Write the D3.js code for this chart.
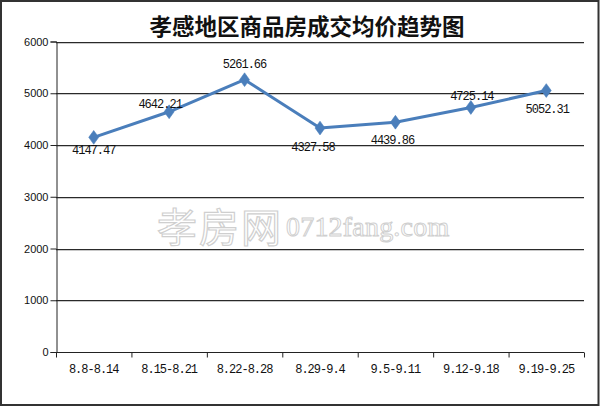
<!DOCTYPE html>
<html><head><meta charset="utf-8">
<script src="https://cdn.jsdelivr.net/npm/d3@7"></script>
<style>
html,body{margin:0;padding:0;background:#fff;}
svg{display:block;}
</style></head>
<body>
<svg id="c" width="600" height="406"></svg>
<script>
// ---- data ----
const title = "孝感地区商品房成交均价趋势图";
const categories = ["8.8-8.14","8.15-8.21","8.22-8.28","8.29-9.4","9.5-9.11","9.12-9.18","9.19-9.25"];
const prices = [4147.47, 4642.21, 5261.66, 4327.58, 4439.86, 4725.14, 5052.31];
const yTicks = [0, 1000, 2000, 3000, 4000, 5000, 6000];
const watermarkCN = "孝房网";
const watermarkEN = "0712fang.com";
// label placement (style)
const labelDx = [0, -9, 0, -7, -3, 1, 1];
const labelDy = [12, -8, -16, 18, 17, -12, 18];

const svg = d3.select("#c");
const W = 600, H = 406;
const m = {left:56, right:584, top:41.5, bottom:352};

// outer border
svg.append("rect").attr("x",1).attr("y",1).attr("width",W-2.5).attr("height",H-2)
  .attr("fill","#fff").attr("stroke","#333").attr("stroke-width",2);

// title
svg.append("text").attr("x",307).attr("y",34.5).attr("text-anchor","middle")
  .attr("font-family","'Noto Sans CJK SC', sans-serif").attr("font-weight","bold")
  .attr("font-size",22.5).attr("fill","#111").text(title);

const x = d3.scaleBand().domain(categories).range([m.left, m.right]);
const y = d3.scaleLinear().domain([0, 6000]).range([m.bottom, m.top]);

// watermark
svg.append("text").attr("x",157).attr("y",242)
  .attr("font-family","'Noto Sans CJK SC', sans-serif").attr("font-size",40)
  .attr("fill","#fff").attr("stroke","#cfcfcf").attr("stroke-width",1.2)
  .attr("letter-spacing",2).text(watermarkCN);
svg.append("text").attr("x",286).attr("y",236)
  .attr("font-family","'Liberation Serif', serif").attr("font-size",28)
  .attr("fill","#fff").attr("stroke","#cfcfcf").attr("stroke-width",1)
  .attr("letter-spacing",0.2).text(watermarkEN);

// gridlines (with soft shadow)
const grid = svg.append("g");
yTicks.filter(t => t > 0).forEach(t => {
  const yy = Math.round(y(t));
  grid.append("line").attr("x1",m.left).attr("x2",m.right).attr("y1",yy+1.5).attr("y2",yy+1.5)
    .attr("stroke","#c8c8c8").attr("stroke-width",1);
  grid.append("line").attr("x1",m.left).attr("x2",m.right).attr("y1",yy+0.5).attr("y2",yy+0.5)
    .attr("stroke","#2a2a2a").attr("stroke-width",1.2);
});

// y axis
const yAxis = d3.axisLeft(y).tickValues(yTicks).tickSize(6).tickPadding(2).tickFormat(d3.format("d"));
const gy = svg.append("g").attr("transform",`translate(${m.left+0.5},0)`).call(yAxis);
gy.select(".domain").attr("stroke","#222");
gy.selectAll(".tick line").attr("stroke","#222");
gy.selectAll("text").attr("font-family","'Liberation Sans', Arial, sans-serif").attr("font-size",11).attr("fill","#111");

// x axis
const gx = svg.append("g").attr("transform",`translate(0,${m.bottom+0.5})`);
gx.append("line").attr("x1",m.left).attr("x2",m.right).attr("stroke","#222").attr("stroke-width",1.2);
const edges = categories.map(c => x(c)).concat([m.right]);
gx.selectAll("line.tk").data(edges).join("line").attr("class","tk")
  .attr("x1",d=>d+0.5).attr("x2",d=>d+0.5).attr("y1",0).attr("y2",5).attr("stroke","#222");
gx.selectAll("text").data(categories).join("text")
  .attr("x",d=>x(d)+x.bandwidth()/2).attr("y",20.5).attr("text-anchor","middle")
  .attr("font-family","'Liberation Mono', monospace").attr("font-size",12).attr("letter-spacing",-1)
  .attr("fill","#111").text(d=>d);

// line
const pts = categories.map((c,i)=>({c, v:prices[i], i}));
const cx = d => x(d.c) + x.bandwidth()/2;
svg.append("path").datum(pts)
  .attr("d", d3.line().x(cx).y(d=>y(d.v)))
  .attr("fill","none").attr("stroke","#4a7ebb").attr("stroke-width",3).attr("stroke-linejoin","round");

// markers
svg.selectAll("path.mk").data(pts).join("path").attr("class","mk")
  .attr("d", d3.symbol().type(d3.symbolDiamond).size(55))
  .attr("transform", d=>`translate(${cx(d)},${y(d.v)}) scale(1.25,1)`)
  .attr("fill","#4a7ebb").attr("stroke","#4a7ebb").attr("stroke-width",0.5);

// data labels
svg.selectAll("text.lb").data(pts).join("text").attr("class","lb")
  .attr("x", d=>cx(d)+labelDx[d.i]).attr("y", d=>y(d.v)+labelDy[d.i]+4.5)
  .attr("text-anchor","middle")
  .attr("font-family","'Liberation Mono', monospace").attr("font-size",12).attr("letter-spacing",-1)
  .attr("fill","#111").text(d=>d3.format(".2f")(d.v));
</script>
</body></html>
